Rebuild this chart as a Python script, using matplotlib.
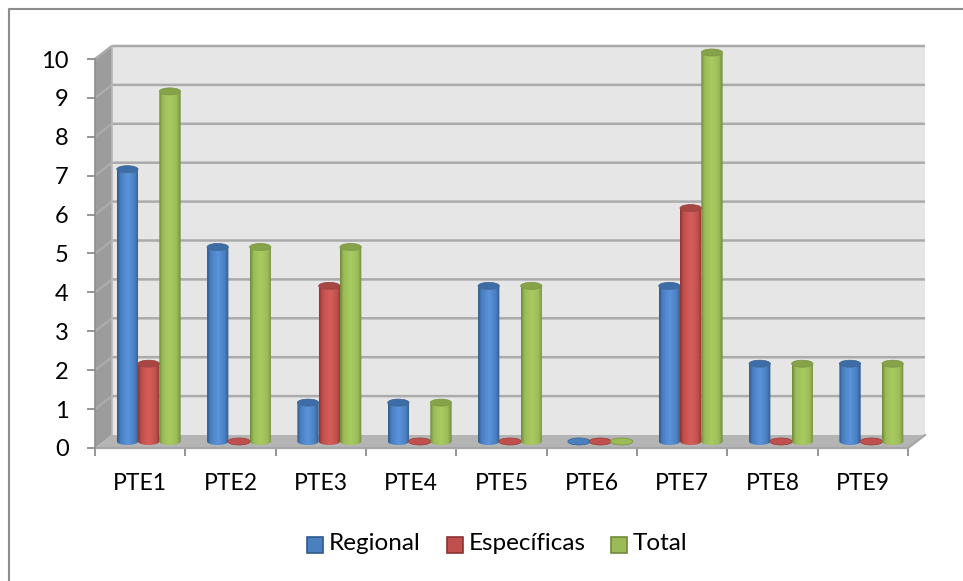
#!/usr/bin/env python3
"""Cylinder column chart drawn with a faked 3D depth."""

import matplotlib
matplotlib.use('Agg')
import matplotlib.pyplot as plt
import numpy as np
from matplotlib.colors import LinearSegmentedColormap
from matplotlib.lines import Line2D
from matplotlib.patches import Ellipse, PathPatch, Polygon, Rectangle
from matplotlib.path import Path

plt.rcParams['font.family'] = ['Lato', 'DejaVu Sans']

categories = ['PTE1', 'PTE2', 'PTE3', 'PTE4', 'PTE5', 'PTE6', 'PTE7', 'PTE8', 'PTE9']
regional = [7, 5, 1, 1, 4, 0, 4, 2, 2]
especificas = [2, 0, 4, 0, 0, 0, 6, 0, 0]
total = [9, 5, 5, 1, 4, 0, 10, 2, 2]
series_names = ['Regional', 'Específicas', 'Total']

W, H = 963, 581
LEFT, RIGHT, TOP, BOTTOM = 95, 908, 59, 448
DX = 17 / ((RIGHT - LEFT) / 9)
DY = 13 / ((BOTTOM - TOP) / 10)
BAR_W = 21.3 / ((RIGHT - LEFT) / 9)
ELL_H = 0.18

COLORS = [
    ('#2f5a8c', '#4a7fc0', '#5b94dc', '#3d6ca6', '#35608f'),
    ('#8c3432', '#c0504d', '#d65f5b', '#a84643', '#963a38'),
    ('#6f8a3a', '#9bbb59', '#a9cc60', '#86a34a', '#76933c'),
]

fig = plt.figure(figsize=(W / 100, H / 100), dpi=100)
# only the left and top edges of the frame are inside the picture
fig.add_artist(Line2D([9 / W, 9 / W, 1], [0, 1 - 9 / H, 1 - 9 / H],
                      transform=fig.transFigure, color='#8c8c8c', lw=1.5))
ax = fig.add_axes([LEFT / W, 1 - BOTTOM / H, (RIGHT - LEFT) / W, (BOTTOM - TOP) / H])
ax.set_xlim(0, 9)
ax.set_ylim(0, 10)
ax.patch.set_visible(False)
for spine in ax.spines.values():
    spine.set_visible(False)

# walls and floor
ax.add_patch(Rectangle((DX, DY), 9, 10, fc='#e6e6e6', ec='none', zorder=1, clip_on=False))
ax.add_patch(Polygon([(0, 0), (DX, DY), (DX, 10 + DY), (0, 10)], fc='#9c9c9c',
                     ec='none', zorder=1, clip_on=False))
ax.add_patch(Polygon([(0, 0), (9, 0), (9 + DX, DY), (DX, DY)], fc='#b4b4b4',
                     ec='none', zorder=1, clip_on=False))

grid_color = '#ababab'
for v in range(1, 11):
    ax.plot([0, DX, 9 + DX], [v, v + DY, v + DY], color=grid_color, lw=1.8,
            zorder=2, clip_on=False, solid_capstyle='butt')
ax.plot([0, 9, 9 + DX], [0, 0, DY], color='#a6a6a6', lw=1.6, zorder=2, clip_on=False)
ax.plot([0, 0], [0, 10], color='#8e8e8e', lw=1.2, zorder=2, clip_on=False)
ax.plot([DX, DX], [DY, 10 + DY], color='#b8b8b8', lw=1.2, zorder=2, clip_on=False)

ax.set_xticks(np.arange(0, 10))
ax.set_xticklabels([])
ax.set_xticks(np.arange(9) + 0.5, categories, minor=True)
ax.set_yticks(np.arange(0, 11))
ax.tick_params(axis='x', which='major', length=6, width=1.3, color='#8e8e8e')
ax.tick_params(axis='x', which='minor', length=0, pad=18, labelsize=16.5, labelcolor='black')
ax.tick_params(axis='y', length=6, width=1.3, color='#8e8e8e', pad=13, labelsize=17,
               labelcolor='black')


def draw_cylinder(x0, value, palette):
    dark, mid, light, top_col, edge = palette
    cx = x0 + BAR_W / 2
    base = DY / 2
    if value == 0:
        ax.add_patch(Ellipse((cx, base), BAR_W * 1.05, ELL_H, fc=mid, ec=edge, lw=0.5,
                             zorder=5, clip_on=False))
        return
    x1 = x0 + BAR_W
    y0 = base
    y1 = value + DY / 2
    h = ELL_H / 2
    k = 0.5523
    w = BAR_W / 2
    verts = [
        (x0, y1), (x0, y0),
        (x0, y0 - h * k), (cx - w * k, y0 - h), (cx, y0 - h),
        (cx + w * k, y0 - h), (x1, y0 - h * k), (x1, y0),
        (x1, y1),
        (x1, y1 - h * k), (cx + w * k, y1 - h), (cx, y1 - h),
        (cx - w * k, y1 - h), (x0, y1 - h * k), (x0, y1),
        (x0, y1),
    ]
    codes = [Path.MOVETO, Path.LINETO, Path.CURVE4, Path.CURVE4, Path.CURVE4,
             Path.CURVE4, Path.CURVE4, Path.CURVE4, Path.LINETO,
             Path.CURVE4, Path.CURVE4, Path.CURVE4,
             Path.CURVE4, Path.CURVE4, Path.CURVE4, Path.CLOSEPOLY]
    body = PathPatch(Path(verts, codes), fc='none', ec='none', zorder=5, clip_on=False)
    ax.add_patch(body)
    stops = [(0, dark), (0.16, mid), (0.5, light), (0.82, mid), (1, dark)]
    cmap = LinearSegmentedColormap.from_list('c', stops)
    grad = np.linspace(0, 1, 64).reshape(1, -1)
    im = ax.imshow(grad, extent=(x0, x1, y0 - h, y1), cmap=cmap, aspect='auto', zorder=5)
    im.set_clip_box(fig.bbox)
    im.set_clip_path(body)
    ax.add_patch(Ellipse((cx, y1), BAR_W, ELL_H, fc=top_col, ec=edge, lw=0.5, zorder=6,
                         clip_on=False))


for i in range(len(categories)):
    start = i + 0.5 - 1.5 * BAR_W + DX / 2
    for j, vals in enumerate([regional, especificas, total]):
        draw_cylinder(start + j * BAR_W, vals[i], COLORS[j])

ax.set_xlim(0, 9)
ax.set_ylim(0, 10)

# legend
legend_items = [(307, series_names[0]), (447, series_names[1]), (611, series_names[2])]
for (px, label), palette in zip(legend_items, COLORS):
    fig.add_artist(Rectangle((px / W, 1 - 553 / H), 15.5 / W, 16.5 / H, transform=fig.transFigure,
                             fc=palette[1], ec=palette[0], lw=1.2))
    fig.text((px + 22) / W, 1 - 544 / H, label, fontsize=17.5, va='center', ha='left')

fig.savefig('out.png', dpi=100)
